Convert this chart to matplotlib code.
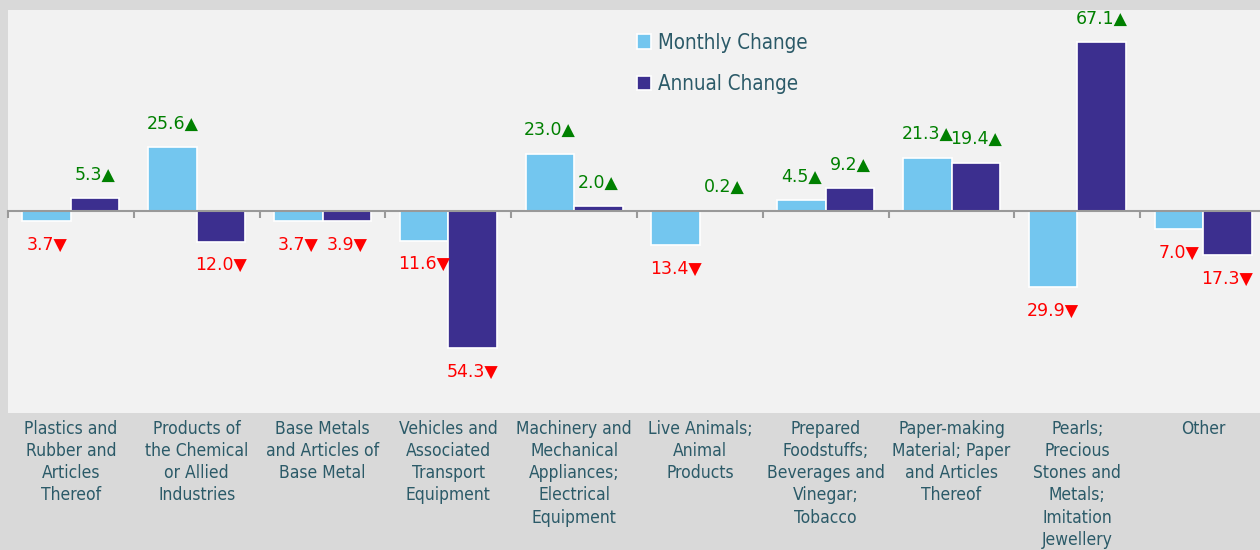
import matplotlib.pyplot as plt
import numpy as np
from matplotlib.font_manager import FontProperties

categories = [
    "Plastics and\nRubber and\nArticles\nThereof",
    "Products of\nthe Chemical\nor Allied\nIndustries",
    "Base Metals\nand Articles of\nBase Metal",
    "Vehicles and\nAssociated\nTransport\nEquipment",
    "Machinery and\nMechanical\nAppliances;\nElectrical\nEquipment",
    "Live Animals;\nAnimal\nProducts",
    "Prepared\nFoodstuffs;\nBeverages and\nVinegar;\nTobacco",
    "Paper-making\nMaterial; Paper\nand Articles\nThereof",
    "Pearls;\nPrecious\nStones and\nMetals;\nImitation\nJewellery",
    "Other",
]
monthly = [-3.7, 25.6, -3.7, -11.6, 23.0, -13.4, 4.5, 21.3, -29.9, -7.0]
annual = [5.3, -12.0, -3.9, -54.3, 2.0, 0.2, 9.2, 19.4, 67.1, -17.3]

c_month = '#73c6ef'
c_year = '#3c2f8f'
txt_col = '#2b5a68'

tick_font = FontProperties(family='DejaVu Sans', stretch='condensed', size=12.5)
leg_font = FontProperties(family='DejaVu Sans', stretch='condensed', size=14.8)

fig = plt.figure(figsize=(12.6, 5.5), dpi=100, facecolor='#d9d9d9')
ax = fig.add_axes([8 / 1260, 137 / 550, 1258 / 1260, 403 / 550])
ax.set_facecolor('#f2f2f2')

x = np.arange(len(categories))
w = 0.385
b1 = ax.bar(x - w / 2, monthly, w, color=c_month, edgecolor='white', linewidth=1.2,
            label='Monthly Change')
b2 = ax.bar(x + w / 2, annual, w, color=c_year, edgecolor='white', linewidth=1.2,
            label='Annual Change')

# value labels with arrows
for bars, vals in ((b1, monthly), (b2, annual)):
    for r, v in zip(bars, vals):
        cx = r.get_x() + r.get_width() / 2
        if v >= 0:
            s, col, dy = f"{abs(v):.1f}\u25b2", '#008000', 17
        else:
            s, col, dy = f"{abs(v):.1f}\u25bc", '#ff0000', -17
        ax.annotate(s, (cx, v), xytext=(0, dy), textcoords='offset points',
                    ha='center', va='center', color=col, fontsize=12.5)

ax.set_xlim(-0.5, len(categories) - 0.5)
ax.set_ylim(-80, 80)
ax.set_yticks([])

for sp in ('top', 'right', 'left'):
    ax.spines[sp].set_visible(False)
ax.spines['bottom'].set_position(('data', 0))
ax.spines['bottom'].set_color('#999999')
ax.spines['bottom'].set_linewidth(1.5)

ax.set_xticks(x)
ax.set_xticklabels(categories, fontproperties=tick_font, color=txt_col,
                   linespacing=1.3)
ax.set_xticks(np.arange(len(categories) + 1) - 0.5, minor=True)
ax.tick_params(axis='x', which='major', length=0, pad=150)
ax.tick_params(axis='x', which='minor', length=5, width=1.5, color='#999999',
               direction='out')

leg = ax.legend(loc='upper left', bbox_to_anchor=(618 / 1260, 1 - 14 / 550),
                bbox_transform=fig.transFigure, frameon=False,
                handlelength=0.7, handleheight=0.7, handletextpad=0.35,
                labelspacing=1.05, prop=leg_font)
for t in leg.get_texts():
    t.set_color(txt_col)

plt.savefig('out.png', dpi=100, facecolor=fig.get_facecolor())
